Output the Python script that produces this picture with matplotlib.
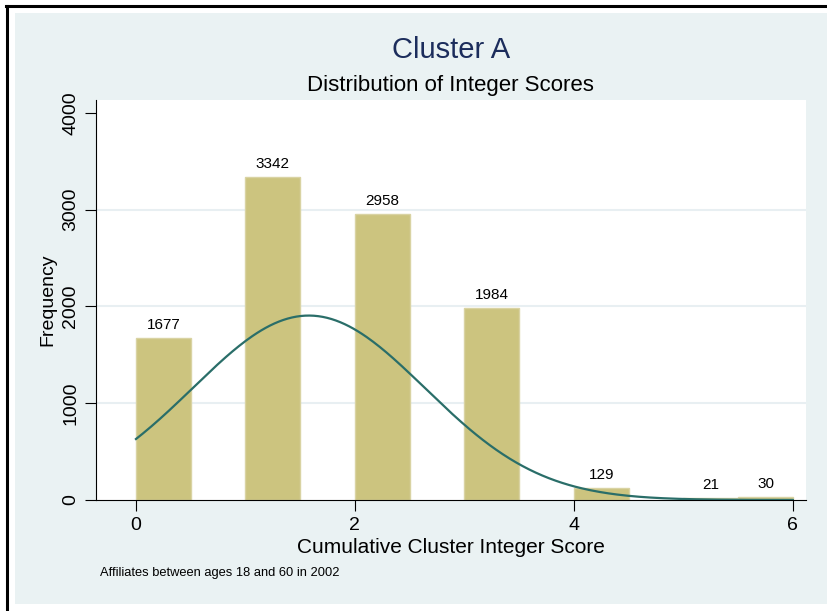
import matplotlib
matplotlib.use('Agg')
import matplotlib.pyplot as plt
import numpy as np
from matplotlib.patches import Rectangle

plt.rcParams['font.family'] = ['Liberation Sans', 'DejaVu Sans']

# histogram bins (left edge, width) and counts
bin_left = [0, 1, 2, 3, 4, 5, 5.5]
bin_width = [0.5, 0.5, 0.5, 0.5, 0.5, 0.5, 0.5]
counts = [1677, 3342, 2958, 1984, 129, 21, 30]
scores = [0, 1, 2, 3, 4, 5, 6]

bg = '#eaf2f3'
bar_color = '#ccc47f'
line_color = '#2a6e69'

fig = plt.figure(figsize=(8.27, 6.11), dpi=100)
fig.patch.set_facecolor('white')
# outer frame and shaded graph region
fig.patches.append(Rectangle((15/827, 1-604/611), 1, (604-13)/611, transform=fig.transFigure,
                             facecolor=bg, edgecolor='none', zorder=-5))
fig.add_artist(plt.Line2D([6/827, 1], [1-5.5/611, 1-5.5/611], color='black', lw=2.2))
fig.add_artist(plt.Line2D([6.5/827, 6.5/827], [0, 1-5.5/611], color='black', lw=2.2))

ax = fig.add_axes([96/827, 1-500/611, (806-96)/827, 400/611])
ax.set_zorder(3)
ax.set_facecolor('white')

ax.bar(bin_left, counts, width=bin_width, align='edge', color=bar_color,
       edgecolor='#d9d3a3', linewidth=1.0, zorder=2)
for l, w, c in zip(bin_left, bin_width, counts):
    ax.text(l + w/2, c + 60, str(c), ha='center', va='bottom', fontsize=11, zorder=4)

# normal density overlay scaled to frequency
vals = np.repeat(scores, counts)
mu, sd = vals.mean(), vals.std()
xs = np.linspace(0, 6, 300)
ys = len(vals) * 0.5 / (sd * np.sqrt(2*np.pi)) * np.exp(-(xs - mu)**2 / (2*sd**2))
ax.plot(xs, ys, color=line_color, lw=1.6, zorder=3)

ax.set_xlim(-0.365, 6.12)
ax.set_ylim(0, 4134)
ax.set_xticks([0, 2, 4, 6])
ax.set_yticks([0, 1000, 2000, 3000, 4000])
for yv in [1000, 2000, 3000]:
    ax.axhline(yv, color='#e8eff2', lw=1.5, zorder=1)
ax.tick_params(axis='both', direction='out', length=8, width=0.8, labelsize=14, pad=4)
plt.setp(ax.get_yticklabels(), rotation=90, va='center')
for s in ['top', 'right']:
    ax.spines[s].set_visible(False)
ax.spines['left'].set_linewidth(0.8)
ax.spines['bottom'].set_linewidth(0.8)

ax.set_xlabel('Cumulative Cluster Integer Score', fontsize=15, labelpad=3)
ax.set_ylabel('Frequency', fontsize=14, labelpad=4)

fig.text(451/827, 1-50/611, 'Cluster A', ha='center', va='center', fontsize=21, color='#1c2d5c')
fig.text(450/827, 1-85/611, 'Distribution of Integer Scores', ha='center', va='center', fontsize=16)
fig.text(100/827, 1-573/611, 'Affiliates between ages 18 and 60 in 2002', ha='left', va='center', fontsize=9.3)

fig.savefig('out.png', dpi=100, facecolor=fig.get_facecolor())
